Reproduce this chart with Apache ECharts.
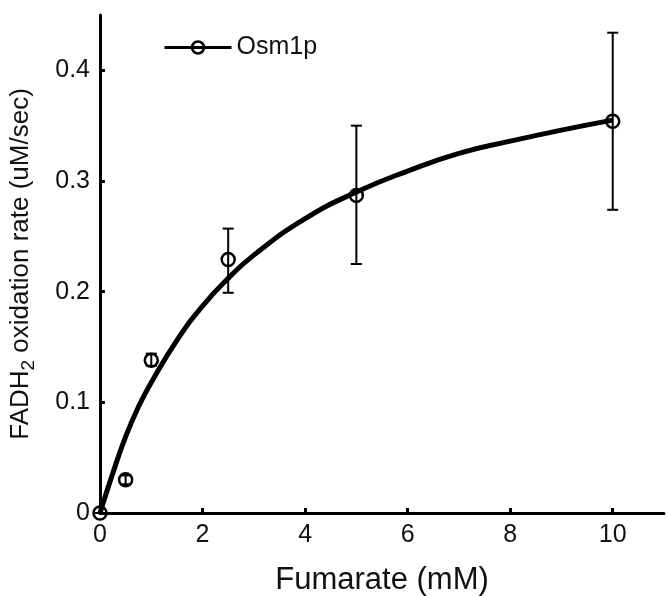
<!DOCTYPE html>
<html>
<head>
<meta charset="utf-8">
<script src="https://cdn.jsdelivr.net/npm/echarts@6/dist/echarts.min.js"></script>
<style>
  html, body { margin: 0; padding: 0; background: #fff; }
  #chart { width: 667px; height: 596px; }
</style>
</head>
<body>
<div id="chart"></div>
<script>
// measured points (Fumarate mM vs rate uM/sec)
const pointX = [0, 0.5, 1, 2.5, 5, 10];
const pointY = [0, 0.030, 0.138, 0.229, 0.287, 0.354];
const errLow = [0, 0.026, 0.133, 0.199, 0.225, 0.274];
const errHigh = [0, 0.034, 0.144, 0.257, 0.350, 0.434];

// fitted curve
const curveX = [0, 0.25, 0.5, 0.75, 1, 1.5, 2, 2.5, 3, 4, 5, 6, 7, 8, 9, 10];
const curveY = [0, 0.036, 0.069, 0.096, 0.118, 0.156, 0.187, 0.212, 0.233, 0.266, 0.290, 0.309, 0.325, 0.336, 0.346, 0.355];

const xTicks = [0, 2, 4, 6, 8, 10];
const yTicks = [0, 0.1, 0.2, 0.3, 0.4];

const FONT = 'Liberation Sans, Arial, sans-serif';
const INK = '#111';

let myChart = echarts.init(document.getElementById('chart'));

let option = {
    backgroundColor: '#fff',
    animation: false,
    textStyle: { fontFamily: FONT, color: INK },
    grid: {
        left: 100,
        right: 3,
        top: 15,
        bottom: 83,
        outerBoundsMode: 'none'
    },
    legend: {
        data: ['Osm1p'],
        left: 163,
        top: 35,
        padding: 0,
        itemWidth: 67,
        itemHeight: 15,
        textStyle: { fontSize: 25, color: INK, fontFamily: FONT },
        lineStyle: { color: '#000', width: 3, opacity: 1 },
        itemStyle: { color: 'transparent', borderColor: '#000', borderWidth: 2.5 }
    },
    xAxis: {
        type: 'value',
        min: 0,
        max: 11,
        name: 'Fumarate (mM)',
        nameLocation: 'middle',
        nameGap: 52,
        nameTextStyle: { fontSize: 31, color: INK, fontFamily: FONT },
        axisLine: { lineStyle: { color: '#000', width: 3 } },
        axisTick: { inside: true, length: 5, lineStyle: { color: '#000', width: 3 }, customValues: xTicks },
        axisLabel: { fontSize: 25, color: INK, margin: 10, customValues: xTicks },
        splitLine: { show: false }
    },
    yAxis: {
        type: 'value',
        min: 0,
        max: 0.45,
        name: '{a|FADH}{sub|2}{a| oxidation rate (uM/sec)}',
        nameLocation: 'middle',
        nameRotate: 90,
        nameGap: 62,
        nameTextStyle: {
            rich: {
                a: { fontSize: 26, lineHeight: 34, color: INK, fontFamily: FONT },
                sub: { fontSize: 19, lineHeight: 18, verticalAlign: 'bottom', color: INK, fontFamily: FONT }
            }
        },
        axisLine: { show: true, lineStyle: { color: '#000', width: 3 } },
        axisTick: { show: true, inside: true, length: 5, lineStyle: { color: '#000', width: 3 }, customValues: yTicks },
        axisLabel: { fontSize: 25, color: INK, margin: 10, customValues: yTicks },
        splitLine: { show: false }
    },
    series: [
        {
            name: 'fit',
            type: 'line',
            smooth: true,
            symbol: 'none',
            lineStyle: { color: '#000', width: 5 },
            data: curveX.map((x, i) => [x, curveY[i]]),
            z: 2
        },
        {
            name: 'err',
            type: 'custom',
            data: pointX.map((x, i) => [x, errLow[i], errHigh[i]]),
            renderItem: function (params, api) {
                const lo = api.coord([api.value(0), api.value(1)]);
                const hi = api.coord([api.value(0), api.value(2)]);
                const w = 5.5;
                const st = { stroke: '#000', lineWidth: 2 };
                return {
                    type: 'group',
                    children: [
                        { type: 'line', shape: { x1: lo[0], y1: lo[1], x2: hi[0], y2: hi[1] }, style: st },
                        { type: 'line', shape: { x1: hi[0] - w, y1: hi[1], x2: hi[0] + w, y2: hi[1] }, style: st },
                        { type: 'line', shape: { x1: lo[0] - w, y1: lo[1], x2: lo[0] + w, y2: lo[1] }, style: st }
                    ]
                };
            },
            z: 3
        },
        {
            name: 'Osm1p',
            type: 'line',
            symbol: 'circle',
            symbolSize: 13,
            lineStyle: { opacity: 0 },
            itemStyle: { color: 'transparent', borderColor: '#000', borderWidth: 2.5 },
            data: pointX.map((x, i) => [x, pointY[i]]),
            z: 4
        }
    ]
};

myChart.setOption(option);
</script>
</body>
</html>
